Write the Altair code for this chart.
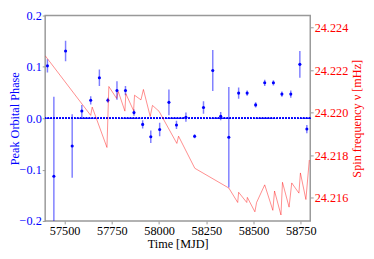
import altair as alt
import pandas as pd

# Peak orbital phase measurements
mjd = [57409, 57443, 57505, 57540, 57591, 57638, 57684, 57729, 57777, 57822,
       57867, 57913, 57956, 58003, 58052, 58092, 58142, 58188, 58235, 58284,
       58326, 58369, 58421, 58466, 58511, 58559, 58605, 58650, 58697, 58745, 58782]
phase = [0.102, -0.113, 0.131, -0.054, 0.014, 0.035, 0.079, 0.035, 0.054, 0.054,
         0.011, -0.012, -0.036, -0.022, 0.031, -0.013, 0.002, -0.035, 0.021, 0.093,
         0.004, -0.037, 0.049, 0.049, 0.026, 0.069, 0.069, 0.047, 0.047, 0.105, -0.021]
phase_err = [0.013, 0.155, 0.020, 0.062, 0.012, 0.008, 0.016, 0.005, 0.018, 0.009,
             0.006, 0.008, 0.012, 0.013, 0.025, 0.008, 0.009, 0.004, 0.012, 0.040,
             0.008, 0.098, 0.011, 0.005, 0.005, 0.006, 0.005, 0.005, 0.007, 0.026, 0.008]

# Spin frequency track
spin_mjd = [57397, 57638, 57646, 57724, 57734, 57775, 57784, 57819, 57824, 57865,
            57870, 57904, 57917, 57953, 57965, 58000, 58094, 58103, 58189, 58369,
            58416, 58421, 58464, 58467, 58507, 58516, 58559, 58602, 58611, 58645,
            58653, 58688, 58702, 58740, 58748, 58777, 58795]
spin_freq = [24.22268, 24.21987, 24.22026, 24.21836, 24.22123, 24.22067, 24.22099,
             24.22007, 24.22089, 24.22009, 24.22082, 24.22060, 24.22109, 24.21982,
             24.22034, 24.22006, 24.21855, 24.21889, 24.21738, 24.21645, 24.21577,
             24.21625, 24.21577, 24.21601, 24.21533, 24.21577, 24.21660, 24.21540,
             24.21631, 24.21518, 24.21672, 24.21555, 24.21669, 24.21621, 24.21716,
             24.21591, 24.21777]

x_ticks = [57500, 57750, 58000, 58250, 58500, 58750]
left_ticks = [-0.2, -0.1, 0.0, 0.1, 0.2]
right_ticks = [24.216, 24.218, 24.220, 24.222, 24.224]

df = pd.DataFrame({"mjd": mjd, "phase": phase, "err": phase_err})
df["lo"] = df["phase"] - df["err"]
df["hi"] = df["phase"] + df["err"]
sf = pd.DataFrame({"mjd": spin_mjd, "freq": spin_freq})

FONT = "Liberation Serif"
FS = 12.5
xscale = alt.Scale(domain=[57397, 58800], nice=False, zero=False)
xaxis = alt.Axis(values=x_ticks, format="d", title="Time [MJD]", grid=False,
                 tickSize=3, labelPadding=1, titlePadding=1, domain=False,
                 tickColor="#999999", labelFont=FONT, titleFont=FONT,
                 labelFontSize=FS, titleFontSize=FS)
yscale = alt.Scale(domain=[-0.2, 0.2], nice=False, zero=False)
yaxis = alt.Axis(values=left_ticks, format=".1f", title="Peak Orbital Phase",
                 grid=False, tickSize=3, labelPadding=1, titlePadding=-2.5,
                 labelColor="#0000ff", titleColor="#0000ff", domain=False,
                 tickColor="#999999", labelFont=FONT, titleFont=FONT,
                 labelFontSize=FS, titleFontSize=FS)

err = alt.Chart(df).mark_rule(color="#0000ff", opacity=0.5, strokeWidth=1.5, clip=True).encode(
    x=alt.X("mjd:Q", scale=xscale, axis=xaxis),
    y=alt.Y("lo:Q", scale=yscale, axis=yaxis),
    y2="hi:Q",
)
pts = alt.Chart(df).mark_circle(color="#0000ff", size=10, opacity=1).encode(
    x=alt.X("mjd:Q", scale=xscale),
    y=alt.Y("phase:Q", scale=yscale),
)
zero = alt.Chart(df).mark_rule(color="#0000ff", opacity=0.4, strokeDash=[1.5, 1.5], strokeWidth=1).encode(
    y=alt.datum(0, scale=yscale),
)
left = alt.layer(err, pts, zero)

right = alt.Chart(sf).mark_line(color="#ff0000", opacity=0.45, strokeWidth=1, clip=True).encode(
    x=alt.X("mjd:Q", scale=xscale),
    y=alt.Y("freq:Q", scale=alt.Scale(domain=[24.2149, 24.22457], nice=False, zero=False),
            axis=alt.Axis(orient="right", values=right_ticks, format=".3f",
                          title="Spin frequency ν [mHz]", grid=False, tickSize=3,
                          labelPadding=1, titlePadding=3, titleAngle=270,
                          titleBaseline="top", labelColor="#ff0000",
                          titleColor="#ff0000", domain=False, tickColor="#999999",
                          labelFont=FONT, titleFont=FONT,
                          labelFontSize=FS, titleFontSize=FS)),
)

chart = alt.layer(left, right).resolve_scale(y="independent").properties(
    width=271, height=210,
    autosize=alt.AutoSizeParams(type="none"),
    padding={"left": 38, "top": 5, "right": 57, "bottom": 28},
).configure_view(
    stroke="#999999", strokeWidth=1.5,
).configure_axis(
    titleFontWeight="normal", labelColor="#000000", titleColor="#000000",
)

chart.save("out.html", embed_options={"renderer": "svg", "actions": False})
